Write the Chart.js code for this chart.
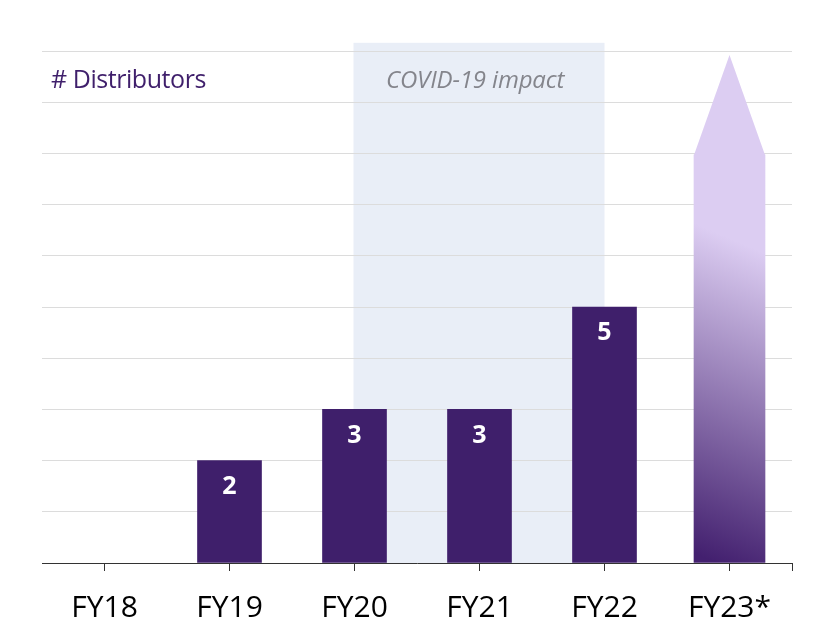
<!DOCTYPE html>
<html>
<head>
<meta charset="utf-8">
<style>
html,body{margin:0;padding:0;background:#fff}
canvas{display:block}
</style>
<script src="https://cdn.jsdelivr.net/npm/chart.js@4"></script>
</head>
<body>
<canvas id="c" width="824" height="635"></canvas>
<script>
const categories = ['FY18','FY19','FY20','FY21','FY22','FY23*'];
const distributors = [null,2,3,3,5,null];
const arrowBody = [null,null,null,null,null,7.97];
const arrowTipValue = 9.92;
const bandStart = 'FY20';
const bandEnd = 'FY22';
const bandTopValue = 10.16;
const yTicks = [0,1,2,3,4,5,6,7,8,9,10];
const FONT = '"Open Sans", sans-serif';
const PURPLE = '#3f1f6b';

function arrowGradient(c){
  const {chart} = c, y = chart.scales.y, x = chart.scales.x;
  if(!x || !y) return PURPLE;
  const cx = x.getPixelForValue(5), y0 = y.getPixelForValue(0), y1 = y.getPixelForValue(5.47);
  if(![cx,y0,y1].every(Number.isFinite)) return PURPLE;
  const g = chart.ctx.createLinearGradient(cx-12,y0,cx+106,y1);
  g.addColorStop(0,'#43206f');
  g.addColorStop(1,'#dccdf2');
  return g;
}

const annotate = {
  id:'annotate',
  beforeDraw(chart){
    const {ctx,scales:{x,y}} = chart;
    const l = x.getPixelForValue(categories.indexOf(bandStart))-1;
    const r = x.getPixelForValue(categories.indexOf(bandEnd));
    const t = y.getPixelForValue(bandTopValue);
    ctx.save();
    ctx.fillStyle='#e9eef7';
    ctx.fillRect(l,t,r-l,y.getPixelForValue(0)-t);
    ctx.restore();
  },
  afterDatasetsDraw(chart){
    const {ctx,scales:{x,y},chartArea} = chart;
    ctx.save();
    const bar = chart.getDatasetMeta(1).data[5];
    const half = bar.width/2;
    ctx.fillStyle='#dccdf2';
    ctx.beginPath();
    ctx.moveTo(bar.x-half,bar.y);
    ctx.lineTo(bar.x,y.getPixelForValue(arrowTipValue));
    ctx.lineTo(bar.x+half,bar.y);
    ctx.closePath();
    ctx.fill();
    ctx.fillStyle='#fff';
    ctx.font='bold 25px '+FONT;
    ctx.textAlign='center';
    ctx.textBaseline='middle';
    chart.getDatasetMeta(0).data.forEach((el,i)=>{
      if(distributors[i]!=null) ctx.fillText(String(distributors[i]),el.x,el.y+26);
    });
    ctx.textAlign='left';
    ctx.fillStyle=PURPLE;
    ctx.font='500 25px '+FONT;
    ctx.letterSpacing='-0.45px';
    ctx.fillText('# Distributors',51,81);
    ctx.fillStyle='#84858c';
    ctx.font='italic 24px '+FONT;
    ctx.letterSpacing='-0.15px';
    ctx.fillText('COVID-19 impact',386,81);
    ctx.letterSpacing='0px';
    ctx.strokeStyle='#333';
    ctx.lineWidth=1;
    ctx.beginPath();
    const bx=Math.round(chartArea.right)+0.5, by=y.getPixelForValue(0);
    ctx.moveTo(bx,by);ctx.lineTo(bx,by+8);ctx.stroke();
    ctx.restore();
  }
};

new Chart(document.getElementById('c'),{
  type:'bar',
  data:{labels:categories,datasets:[
    {data:distributors,backgroundColor:'#3f1f6b',barThickness:64,grouped:false,order:1},
    {data:arrowBody,backgroundColor:arrowGradient,barThickness:71,grouped:false,order:2}
  ]},
  options:{
    responsive:false,animation:false,
    layout:{padding:{left:42,right:32,top:51,bottom:0}},
    plugins:{legend:{display:false},tooltip:{enabled:false},title:{display:false}},
    scales:{
      x:{
        afterFit(s){s.height=72;},
        grid:{display:true,drawOnChartArea:false,offset:false,color:'#333',tickLength:8,tickWidth:1},
        border:{color:'#333',width:1},
        ticks:{color:'#000',font:{family:'"Open Sans", sans-serif',size:30},padding:19,maxRotation:0,autoSkip:false}
      },
      y:{
        min:0,max:10,
        afterBuildTicks(s){s.ticks=yTicks.map(v=>({value:v}));},
        grid:{color:'#dcdcdc',lineWidth:1,drawTicks:false},
        border:{display:false},
        ticks:{display:false}
      }
    }
  },
  plugins:[annotate]
});
</script>
</body>
</html>
